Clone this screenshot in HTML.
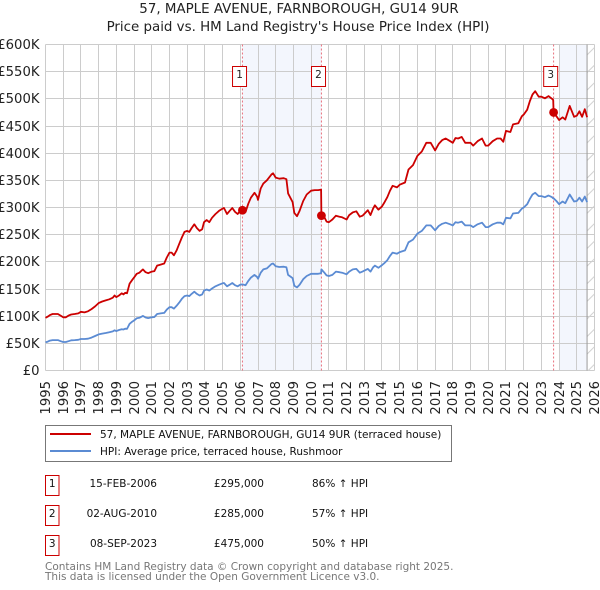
<!DOCTYPE html>
<html lang="en">
<head>
<meta charset="utf-8">
<title>57, Maple Avenue, Farnborough price chart</title>
<style>
html,body{margin:0;padding:0;background:#fff;width:600px;height:590px;overflow:hidden}
svg{display:block;font-family:"DejaVu Sans","Liberation Sans",sans-serif}
</style>
</head>
<body>
<svg id="chart" xmlns="http://www.w3.org/2000/svg" width="600" height="590" viewBox="0 0 600 590">
<defs>
<pattern id="hatch" patternUnits="userSpaceOnUse" width="9" height="17.6" x="585.5" y="44.5">
<line x1="0" y1="12" x2="9" y2="3" stroke="#cfcfcf" stroke-width="1"/>
</pattern>
</defs>
<text x="299" y="13" font-size="13.4" text-anchor="middle" fill="#222">57, MAPLE AVENUE, FARNBOROUGH, GU14 9UR</text>
<text x="298" y="31" font-size="13.4" text-anchor="middle" fill="#222">Price paid vs. HM Land Registry's House Price Index (HPI)</text>
<g id="plot"></g>

<rect x="45.5" y="425.5" width="406" height="36" fill="#fff" stroke="#777" stroke-width="1"/>
<line x1="50" y1="434" x2="91" y2="434" stroke="#cc0000" stroke-width="2"/>
<text x="100" y="438" font-size="10.5" fill="#111">57, MAPLE AVENUE, FARNBOROUGH, GU14 9UR (terraced house)</text>
<line x1="50" y1="451" x2="91" y2="451" stroke="#5b8bd3" stroke-width="2"/>
<text x="100" y="455" font-size="10.5" fill="#111">HPI: Average price, terraced house, Rushmoor</text>

<g font-size="10.5" fill="#111">
<rect x="45.5" y="475.5" width="13.5" height="20" fill="#fff" stroke="#cc0000" stroke-width="1"/>
<text x="52.2" y="487" text-anchor="middle">1</text>
<text x="157" y="487" text-anchor="end">15-FEB-2006</text>
<text x="264" y="487" text-anchor="end">£295,000</text>
<text x="312" y="487">86% ↑ HPI</text>
</g>
<g font-size="10.5" fill="#111">
<rect x="45.5" y="505.5" width="13.5" height="20" fill="#fff" stroke="#cc0000" stroke-width="1"/>
<text x="52.2" y="517" text-anchor="middle">2</text>
<text x="157" y="517" text-anchor="end">02-AUG-2010</text>
<text x="264" y="517" text-anchor="end">£285,000</text>
<text x="312" y="517">57% ↑ HPI</text>
</g>
<g font-size="10.5" fill="#111">
<rect x="45.5" y="535.5" width="13.5" height="20" fill="#fff" stroke="#cc0000" stroke-width="1"/>
<text x="52.2" y="547" text-anchor="middle">3</text>
<text x="157" y="547" text-anchor="end">08-SEP-2023</text>
<text x="264" y="547" text-anchor="end">£475,000</text>
<text x="312" y="547">50% ↑ HPI</text>
</g>
<text x="45" y="570" font-size="10.5" fill="#777">Contains HM Land Registry data © Crown copyright and database right 2025.</text>
<text x="45" y="580" font-size="10.5" fill="#777">This data is licensed under the Open Government Licence v3.0.</text>
</svg>
<script>
const yearTicks = [1995,1996,1997,1998,1999,2000,2001,2002,2003,2004,2005,2006,2007,2008,2009,2010,2011,2012,2013,2014,2015,2016,2017,2018,2019,2020,2021,2022,2023,2024,2025,2026];
const valueTicks = [0,50,100,150,200,250,300,350,400,450,500,550,600];
const valueLabels = ['£0','£50K','£100K','£150K','£200K','£250K','£300K','£350K','£400K','£450K','£500K','£550K','£600K'];
const dates = [
1995,1995.12,1995.25,1995.4,1995.55,1995.7,1995.85,
1996,1996.15,1996.3,1996.45,1996.65,1996.85,
1997,1997.2,1997.4,1997.6,1997.8,
1998,1998.2,1998.4,1998.6,1998.8,1998.9,
1999,1999.15,1999.3,1999.4,1999.5,1999.6,1999.75,1999.9,
2000,2000.15,2000.3,2000.5,2000.65,2000.8,
2001,2001.15,2001.3,2001.5,2001.7,2001.85,
2002,2002.12,2002.25,2002.4,2002.55,2002.7,2002.85,
2003,2003.12,2003.25,2003.4,2003.55,2003.7,2003.85,2003.95,
2004.1,2004.25,2004.4,2004.6,2004.8,
2005,2005.08,2005.25,2005.4,2005.55,2005.7,2005.85,
2006,2006.12,2006.3,2006.45,2006.6,2006.8,2006.95,
2007,2007.15,2007.3,2007.5,2007.76,2007.85,
2008,2008.2,2008.45,2008.6,2008.7,2008.95,
2009.05,2009.2,2009.35,2009.55,2009.75,
2010,2010.2,2010.4,2010.56,2010.58,2010.75,2010.87,
2011,2011.2,2011.4,2011.6,2011.75,
2012,2012.15,2012.35,2012.55,2012.75,2012.9,
2013.2,2013.35,2013.5,2013.6,2013.8,
2014,2014.15,2014.3,2014.45,2014.6,2014.85,
2015,2015.3,2015.5,2015.75,
2016,2016.25,2016.5,2016.75,
2017,2017.2,2017.4,2017.6,2017.85,
2018,2018.15,2018.3,2018.5,2018.7,
2019,2019.15,2019.4,2019.65,2019.85,
2020,2020.25,2020.5,2020.7,2020.85,
2021,2021.25,2021.4,2021.7,2021.9,
2022,2022.2,2022.35,2022.5,2022.65,2022.85,
2023,2023.2,2023.4,2023.6,2023.67,2023.69,2023.85,
2024,2024.2,2024.35,2024.6,2024.85,
2025,2025.15,2025.3,2025.45,2025.58
];
const hpiValues = [
52,53,55,56,56,56,54,
52.5,52.5,54,55.5,56,56.5,
58,58,58.5,60.5,63.5,
66.5,68,69,70.5,72,74,
72.5,74.5,76,75.5,77,76.5,86,90,
92,96,97,100.5,97.5,96.5,
98,98.5,104,105,106,112,
116.5,116.5,114,119,125,132,137,
138,137,141,145,141,138,140,147,
149,147,151,155,158,
160.5,161,155,158,161,157,155,
158,158.5,157,165,171,176,172,
169,180,186,188,196,197,
192,190.5,191,190,176,170,
156,153,158,168,174,
178,178,178,179,186,180,175,
174,176,182,181,180,
177,182,186,187,180,182,
187,182,190,193,189,
194,198,203,211,217,215,
218,221,236,241,
252,257,267,267,
258,266,270,272,269,
267,273,272,274,267,
267,264,269,272,264,
264,269,272,272,269,
281,280,289,290,298,
300,306,316,324,327,321,
321,319,322,319,317,317,312,
306,311,308,324,311,
312,318,311,320,310
];
const priceValues = [
97,99,102,104,104,104,101,
98,98,101,103,104,105,
108,107,109,113,118,
124,127,129,131,134,138,
135,138,142,140,143,142,160,167,
171,178,180,186,181,179,
182,183,193,195,197,208,
217,217,212,221,233,245,255,
257,255,262,269,262,257,260,273,
277,273,281,288,294,
298,299,288,294,299,292,288,
294,295,292,307,318,327,320,
314,335,344,350,361,363,
355,353,354,352,326,310,
290,284,294,312,324,
331,332,332,333,285,282,274,
273,278,285,283,282,
278,286,291,293,283,285,
295,286,298,304,296,
302,310,319,331,340,337,
342,346,370,378,
395,403,419,419,
405,417,424,427,422,
419,428,427,430,419,
419,414,422,427,414,
414,422,427,427,421,
441,439,453,455,468,
471,480,496,508,514,504,
504,501,505,500,498,475,468,
461,466,462,487,467,
469,477,467,481,466
];
const saleDates = [2006.12,2010.58,2023.69];
const salePrices = [295,285,475];
const saleLabels = ['1','2','3'];
const shadeBands = [[2006.12,2010.58],[2024,2025.58]];
const forecastStart = 2025.58;

const NS = 'http://www.w3.org/2000/svg';
const plot = document.getElementById('plot');
const L = 45.5, R = 594.5, T = 44.5, B = 370.5;
const xScale = y => L + (y - 1995) * (R - L) / 31;
const yScale = v => B - v * (B - T) / 600;
function mk(tag, attrs, parent) {
  const el = document.createElementNS(NS, tag);
  for (const k in attrs) el.setAttribute(k, attrs[k]);
  (parent || plot).appendChild(el);
  return el;
}

shadeBands.forEach(b => {
  const band = mk('rect', {x: xScale(b[0]), y: T, width: xScale(b[1]) - xScale(b[0]), height: B - T, fill: '#f3f6fd'});
  
  
});

yearTicks.forEach(yr => {
  const x = Math.round(xScale(yr) - 0.5) + 0.5;
  const line = mk('line', {x1: x, y1: T, x2: x, y2: B, stroke: '#cccccc', 'stroke-width': 1});
  
  
  const label = mk('text', {transform: 'translate(' + (x + 4.5) + ',381) rotate(-90)', 'font-size': 13.2, 'text-anchor': 'end', fill: '#222'});
  label.textContent = yr;
  
  
});
valueTicks.forEach((v, i) => {
  const y = Math.round(yScale(v) - 0.5) + 0.5;
  const line = mk('line', {x1: L, y1: y, x2: R, y2: y, stroke: '#cccccc', 'stroke-width': 1});
  
  
  const label = mk('text', {x: 39.5, y: y + 4.5, 'font-size': 13.2, 'text-anchor': 'end', fill: '#222'});
  label.textContent = valueLabels[i];
  
  
});

const hatch = mk('rect', {x: xScale(forecastStart), y: T, width: R - xScale(forecastStart), height: B - T, fill: 'url(#hatch)'});


const endLine = mk('line', {x1: xScale(forecastStart), y1: T, x2: xScale(forecastStart), y2: B, stroke: '#999', 'stroke-width': 1});



saleDates.forEach(d => {
  const rule = mk('line', {x1: xScale(d), y1: T, x2: xScale(d), y2: B, stroke: '#e8707c', 'stroke-width': 1, 'stroke-dasharray': '2 2'});
  
  
});

const toPoints = arr => arr.map((v, i) => xScale(dates[i]).toFixed(1) + ',' + yScale(v).toFixed(1)).join(' ');
const hpiLine = mk('polyline', {points: toPoints(hpiValues), fill: 'none', stroke: '#5b8bd3', 'stroke-width': 1.8, 'stroke-linejoin': 'round'});


const priceLine = mk('polyline', {points: toPoints(priceValues), fill: 'none', stroke: '#cc0000', 'stroke-width': 1.8, 'stroke-linejoin': 'round'});



saleDates.forEach((d, i) => {
  const dot = mk('circle', {cx: xScale(d), cy: yScale(salePrices[i]), r: 4.4, fill: '#cc0000'});
  
  
  const cx = xScale(d) - 2.9;
  const box = mk('rect', {x: cx - 7, y: 66.5, width: 14, height: 20, fill: '#fff', stroke: '#cc0000', 'stroke-width': 1});
  
  
  const num = mk('text', {x: cx, y: 78, 'font-size': 10.5, 'text-anchor': 'middle', fill: '#222'});
  num.textContent = saleLabels[i];
  
  
});
</script>
</body>
</html>
